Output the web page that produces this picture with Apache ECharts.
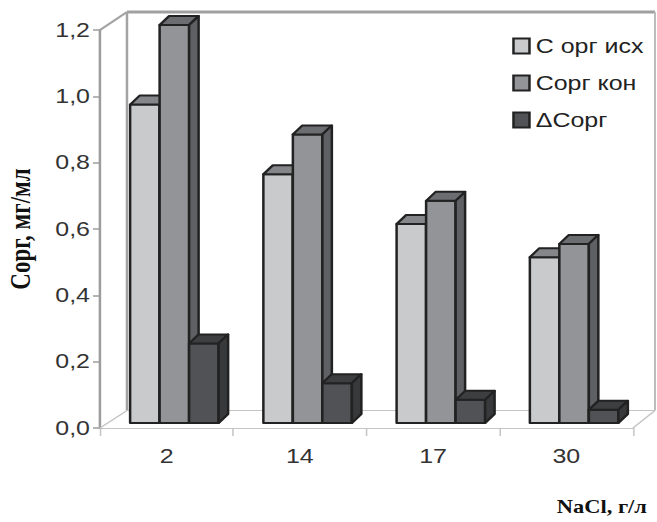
<!DOCTYPE html>
<html>
<head>
<meta charset="utf-8">
<script src="https://cdn.jsdelivr.net/npm/echarts@6/dist/echarts.min.js"></script>
<style>
  html, body { margin: 0; padding: 0; background: #fff; overflow: hidden; }
  /* the drawing is laid out narrow and widened horizontally to the page width */
  #chart { width: 526px; height: 522px; transform: scaleX(1.2490); transform-origin: 0 0; }
</style>
</head>
<body>
<div id="chart"></div>
<script>
// NaCl concentration, g/l
const categories = ['2', '14', '17', '30'];
// organic carbon, mg/ml
const cOrgInitial = [0.96, 0.75, 0.60, 0.50];
const cOrgFinal   = [1.20, 0.87, 0.67, 0.54];
const cOrgDelta   = [0.24, 0.12, 0.07, 0.04];
const seriesNames = ['С орг исх', 'Сорг кон', '\u0394Сорг'];
const yTickLabels = ['0,0', '0,2', '0,4', '0,6', '0,8', '1,0', '1,2'];

const S = 657 / 526;               // horizontal widening of the page
const sx = v => v / S;             // page px -> layout px (horizontal)

// 3D box styles for each series: front, top, side faces
const faces = [
  { front: '#c9cacc', top: '#85868a', side: '#6e6f72' },
  { front: '#939497', top: '#6c6d70', side: '#5f6063' },
  { front: '#515255', top: '#3d3e40', side: '#38393b' }
];
// bar placement inside a category band (fractions of band width)
const BAND_PX = 133.25;
const barLeft = [-36.5 / BAND_PX, -7 / BAND_PX, 22.5 / BAND_PX];
const barWidth = 29.5 / BAND_PX;
const depthX = 9.5 / BAND_PX;
const depthY = -9;
const lift = 5;

function boxRenderer(slot) {
  const f = faces[slot];
  return function (params, api) {
    const idx = api.value(0);
    const v = api.value(1);
    const base = api.coord([idx, 0]);
    const top = api.coord([idx, v]);
    const band = api.size([1, 0])[0];
    const x0 = base[0] + band * barLeft[slot];
    const x1 = x0 + band * barWidth;
    const yb = base[1] - lift;
    const yt = top[1] - lift;
    const dx = band * depthX, dy = depthY;
    const stroke = { stroke: '#222', lineWidth: 2, lineJoin: 'round' };
    return {
      type: 'group',
      children: [
        { type: 'polygon', shape: { points: [[x0, yb], [x1, yb], [x1, yt], [x0, yt]] },
          style: Object.assign({ fill: f.front }, stroke) },
        { type: 'polygon', shape: { points: [[x0, yt], [x1, yt], [x1 + dx, yt + dy], [x0 + dx, yt + dy]] },
          style: Object.assign({ fill: f.top }, stroke) },
        { type: 'polygon', shape: { points: [[x1, yt], [x1 + dx, yt + dy], [x1 + dx, yb + dy], [x1, yb]] },
          style: Object.assign({ fill: f.side }, stroke) }
      ]
    };
  };
}

// back wall and floor outline of the plot box
function frameRenderer(params, api) {
  const cs = params.coordSys;
  const xl = cs.x, xr = cs.x + cs.width, yt = cs.y, yb = cs.y + cs.height;
  const ldx = sx(27), rdx = sx(22), ddy = -17.5;
  const wallTop = yt - 18;
  const bx0 = xl + ldx, bx1 = xr + rdx, by = yb + ddy;
  const wall = { stroke: '#a3a3a3', lineWidth: 2 };
  const floor = { stroke: '#c4c4c4', lineWidth: 1.2 };
  return {
    type: 'group',
    children: [
      { type: 'line', shape: { x1: bx0, y1: wallTop, x2: bx1, y2: wallTop }, style: { stroke: '#a0a0a0', lineWidth: 3 } },
      { type: 'line', shape: { x1: bx0, y1: wallTop, x2: bx0, y2: by }, style: wall },
      { type: 'line', shape: { x1: bx1, y1: wallTop, x2: bx1, y2: by }, style: { stroke: '#b8b8b8', lineWidth: 1.5 } },
      { type: 'line', shape: { x1: xl, y1: yt, x2: bx0, y2: wallTop }, style: wall },
      { type: 'line', shape: { x1: bx0, y1: by, x2: bx1, y2: by }, style: floor },
      { type: 'line', shape: { x1: xl, y1: yb, x2: bx0, y2: by }, style: floor },
      { type: 'line', shape: { x1: xr, y1: yb, x2: bx1, y2: by }, style: floor }
    ]
  };
}

const valueSets = [cOrgInitial, cOrgFinal, cOrgDelta];
const chart = echarts.init(document.getElementById('chart'), null, { renderer: 'svg' });

const option = {
  animation: false,
  backgroundColor: '#fff',
  grid: { left: sx(100), right: 526 - sx(633), top: 30, bottom: 94, outerBoundsMode: 'none', containLabel: false },
  legend: {
    orient: 'vertical',
    left: sx(506),
    top: 31,
    data: seriesNames,
    icon: 'rect',
    itemWidth: sx(16),
    itemHeight: 15,
    itemGap: 17,
    itemStyle: { borderColor: '#222', borderWidth: 2 },
    textStyle: { fontFamily: '"Liberation Sans", Arial, sans-serif', fontSize: 20, color: '#222', lineHeight: 20 }
  },
  xAxis: {
    type: 'category',
    data: categories,
    name: 'NaCl, г/л',
    nameLocation: 'end',
    nameGap: sx(14),
    nameTextStyle: {
      fontFamily: '"Liberation Serif", "Times New Roman", serif',
      fontWeight: 'bold', fontSize: 18, color: '#111',
      align: 'right', verticalAlign: 'top', padding: [70, 0, 0, 0]
    },
    axisLine: { lineStyle: { color: '#c4c4c4', width: 1.2 } },
    axisTick: { show: true, length: 8, lineStyle: { color: '#c4c4c4', width: 1.2 } },
    axisLabel: { margin: 18, fontFamily: '"Liberation Sans", Arial, sans-serif', fontSize: 20, color: '#333' },
    splitLine: { show: false }
  },
  yAxis: {
    type: 'value',
    min: 0, max: 1.2, interval: 0.2,
    name: 'Сорг, мг/мл',
    nameLocation: 'middle',
    nameGap: sx(65),
    nameTextStyle: {
      fontFamily: '"Liberation Serif", "Times New Roman", serif',
      fontWeight: 'bold', fontSize: 23, color: '#111'
    },
    axisLine: { show: true, lineStyle: { color: '#9c9c9c', width: 2 } },
    axisTick: { show: true, length: sx(7), lineStyle: { color: '#9c9c9c', width: 1.5 } },
    axisLabel: {
      margin: sx(10),
      fontFamily: '"Liberation Sans", Arial, sans-serif', fontSize: 20, color: '#333',
      formatter: v => yTickLabels[Math.round(v / 0.2)]
    },
    splitLine: { show: false }
  },
  series: [
    {
      type: 'custom',
      name: 'frame',
      silent: true,
      z: 1,
      renderItem: frameRenderer,
      data: [[0, 0]],
      encode: { x: 0, y: 1 }
    }
  ].concat(valueSets.map((vals, s) => ({
    type: 'custom',
    name: seriesNames[s],
    z: 3,
    renderItem: boxRenderer(s),
    itemStyle: { color: faces[s].front, borderColor: '#222', borderWidth: 2 },
    data: vals.map((v, i) => [i, v]),
    encode: { x: 0, y: 1 }
  })))
};
chart.setOption(option);
</script>
</body>
</html>
